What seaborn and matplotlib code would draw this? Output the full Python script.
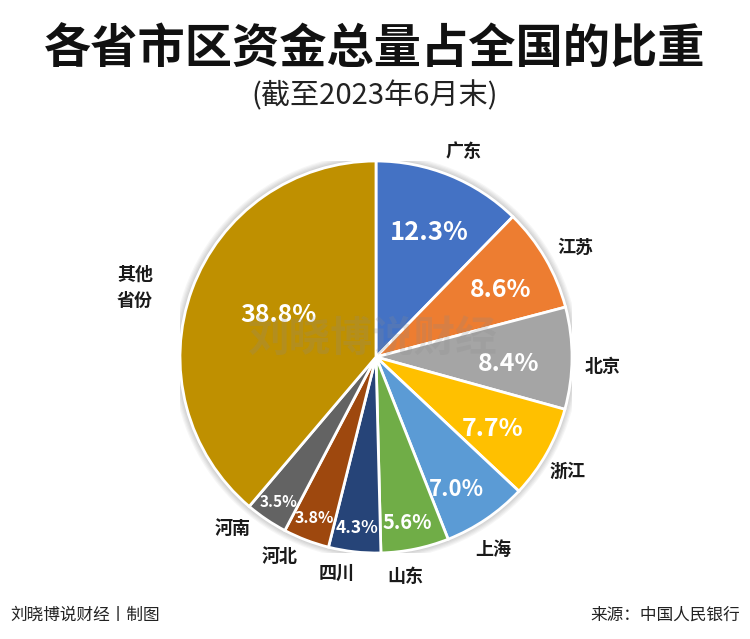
import matplotlib
matplotlib.use("Agg")
import matplotlib.pyplot as plt
from matplotlib.patches import Circle
import seaborn as sns
import numpy as np

# data (截至2023年6月末)
regions = ["广东", "江苏", "北京", "浙江", "上海", "山东", "四川", "河北", "河南", "其他\n省份"]
shares = [12.3, 8.6, 8.4, 7.7, 7.0, 5.6, 4.3, 3.8, 3.5, 38.8]
colors = ["#4472C4", "#ED7D31", "#A5A5A5", "#FFC000", "#5B9BD5",
          "#70AD47", "#264478", "#9E480E", "#636363", "#BF9000"]

# label placement: distance (fraction of radius), angle nudge (deg), font size
pct_dist = [0.69, 0.72, 0.68, 0.70, 0.79, 0.86, 0.88, 0.88, 0.89, 0.54]
pct_nudge = [-1, -2, -2.5, -2.5, -3, -1, 0, 0, 0, -3]
pct_size = [18.5, 18, 18, 18, 16, 14.5, 12.5, 11.5, 11, 18]
lab_dist = [1.14, 1.16, 1.16, 1.14, 1.15, 1.13, 1.12, 1.13, 1.14, 1.28]
lab_nudge = [-1, -1.5, -2, -1.5, -3, -4, -4, -5, -6, 4]

sns.set_theme(style="white")
plt.rcParams['font.family'] = ['Noto Sans CJK SC', 'DejaVu Sans']

fig = plt.figure(figsize=(7.5, 6.39), dpi=100)
fig.patch.set_facecolor("white")
ax = fig.add_axes([180/750, 86/639, 392/750, 392/639])

# soft shadow around the pie
for k in range(6):
    ax.add_patch(Circle((0, 0.0), 1.0 + 0.006 * (k + 1), color="#000000",
                        alpha=0.035, lw=0, zorder=0))

wedges, _ = ax.pie(shares, colors=colors, startangle=90, counterclock=False,
                   radius=1, wedgeprops=dict(edgecolor="white", linewidth=2, zorder=2))
ax.set_xlim(-1, 1)
ax.set_ylim(-1, 1)
ax.set_aspect("equal")
ax.axis("off")

for i, w in enumerate(wedges):
    mid = (w.theta1 + w.theta2) / 2
    a = np.deg2rad(mid + pct_nudge[i])
    ax.text(pct_dist[i] * np.cos(a), pct_dist[i] * np.sin(a), f"{shares[i]:.1f}%",
            ha="center", va="center", color="white", fontsize=pct_size[i],
            fontweight="bold", zorder=5)
    b = np.deg2rad(mid + lab_nudge[i])
    ax.text(lab_dist[i] * np.cos(b), lab_dist[i] * np.sin(b), regions[i],
            ha="center", va="center", color="#1a1a1a", fontsize=13,
            fontweight="bold", linespacing=1.45, clip_on=False)

# watermark
fig.text(373/750, 1 - 340/639, "刘晓博说财经", ha="center", va="center",
         fontsize=30, fontweight="bold", color="#8a8a8a", alpha=0.22)

fig.text(0.5, 1 - 50/639, "各省市区资金总量占全国的比重", ha="center", va="center",
         fontsize=34, fontweight=900, color="#111111")
fig.text(0.5, 1 - 96/639, "(截至2023年6月末)", ha="center", va="center",
         fontsize=21, color="#222222")

fig.text(10/750, 1 - 615/639, "刘晓博说财经丨制图", ha="left", va="center",
         fontsize=12, color="#222222")
fig.text(740/750, 1 - 615/639, "来源：中国人民银行", ha="right", va="center",
         fontsize=12, color="#222222")

fig.savefig("out.png", dpi=100, facecolor="white")
